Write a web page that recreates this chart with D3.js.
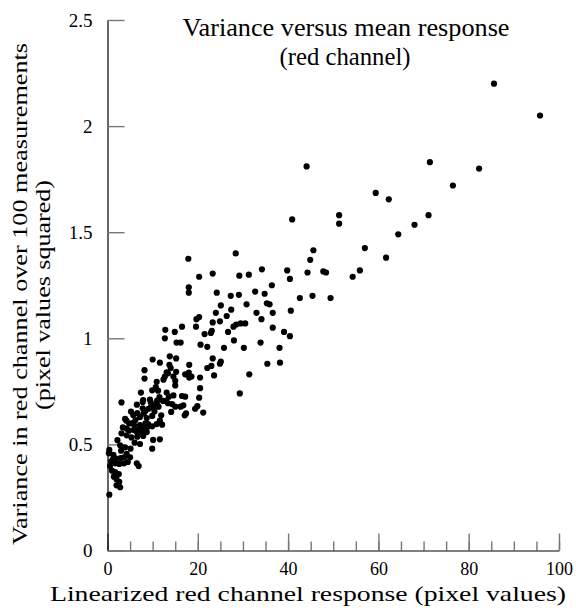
<!DOCTYPE html>
<html>
<head>
  <meta charset="utf-8">
  <title>Variance versus mean response</title>
  <script src="https://d3js.org/d3.v7.min.js"></script>
  <style>
    body { margin: 0; background: #fff; }
    svg { display: block; }
  </style>
</head>
<body>
  <svg width="576" height="613"></svg>
  <script>
    var meanResponse = [
      85.6, 95.8, 44.1, 71.4, 82.3, 76.5, 59.4, 62.3, 71.1, 68.0, 64.4, 61.7, 40.9, 51.3, 51.3, 28.4,
      45.6, 44.9, 57.0, 23.3, 29.2, 31.3, 34.2, 39.8, 40.4, 44.3, 47.8, 48.4, 55.9, 54.3, 42.6, 45.4,
      49.4, 24.2, 27.3, 29.1, 32.7, 34.8, 36.4, 20.3, 25.1, 24.0, 27.4, 26.4, 30.8, 35.3, 35.9, 33.0,
      36.6, 34.1, 40.6, 23.3, 24.9, 27.9, 28.5, 29.5, 30.5, 36.6, 39.1, 40.4, 21.5, 22.9, 23.1, 26.7,
      20.3, 20.6, 22.1, 25.8, 28.0, 30.2, 33.9, 38.1, 23.3, 22.1, 23.0, 24.9, 25.1, 23.6, 31.4, 35.4,
      38.2, 29.3, 21.2, 20.5, 20.5, 20.3, 17.9, 18.0, 18.0, 19.7, 19.6, 16.5, 14.9, 12.8, 12.7, 15.3,
      16.2, 10.0, 11.6, 13.8, 15.2, 13.7, 14.0, 8.2, 8.2, 13.1, 12.7, 12.4, 14.6, 15.0, 18.1, 17.2,
      18.1, 18.6, 19.9, 19.4, 10.9, 10.7, 11.2, 11.5, 11.0, 7.4, 9.9, 7.9, 9.4, 13.1, 14.6, 13.0,
      13.4, 14.3, 15.0, 16.5, 17.2, 16.8, 17.1, 16.2, 3.1, 3.9, 4.2, 5.7, 6.6, 7.2, 7.8, 8.4,
      9.1, 9.6, 10.1, 10.9, 11.3, 4.8, 5.9, 7.2, 8.4, 9.0, 6.8, 7.9, 8.8, 9.9, 10.9, 11.6,
      11.9, 9.9, 12.1, 10.1, 11.6, 3.1, 6.5, 7.8, 9.6, 11.0, 14.1, 17.4, 8.7, 9.9, 5.9, 6.5,
      7.5, 8.7, 4.25, 5.3, 6.6, 6.0, 7.2, 2.8, 3.9, 5.1, 0.4, 0.3, 1.3, 1.9, 2.9, 3.65,
      0.8, 0.55, 1.7, 2.6, 3.65, 4.5, 6.5, 6.9, 1.0, 1.7, 2.5, 1.4, 2.0, 2.6, 2.0, 2.8,
      0.4, 13.4, 15.2, 18.0, 15.0, 4.25, 4.8, 5.0, 4.25, 5.2, 6.2, 8.0, 10.4, 12.3, 13.6, 2.2,
      3.4, 5.6, 7.9, 1.2, 3.0
    ];
    var variance = [
      2.20, 2.05, 1.81, 1.83, 1.80, 1.72, 1.685, 1.655, 1.58, 1.535, 1.49, 1.38, 1.56, 1.58, 1.54, 1.40,
      1.415, 1.37, 1.425, 1.305, 1.295, 1.30, 1.325, 1.32, 1.28, 1.31, 1.315, 1.31, 1.32, 1.29, 1.19, 1.20,
      1.19, 1.215, 1.20, 1.205, 1.22, 1.21, 1.25, 1.29, 1.155, 1.12, 1.135, 1.105, 1.16, 1.165, 1.16, 1.12,
      1.12, 1.09, 1.13, 1.075, 1.08, 1.055, 1.065, 1.07, 1.07, 1.05, 1.03, 1.01, 1.02, 1.025, 1.035, 1.03,
      1.10, 0.97, 0.96, 0.955, 0.99, 0.955, 0.98, 0.955, 0.905, 0.86, 0.87, 0.88, 0.89, 0.825, 0.83, 0.88,
      0.885, 0.74, 0.65, 0.765, 0.815, 0.72, 1.375, 1.24, 1.215, 1.09, 1.055, 1.055, 1.03, 1.04, 1.00, 0.98,
      0.98, 0.90, 0.885, 0.915, 0.905, 0.875, 0.86, 0.85, 0.81, 0.84, 0.82, 0.805, 0.82, 0.80, 0.875, 0.83,
      0.815, 0.82, 0.68, 0.668, 0.795, 0.77, 0.753, 0.723, 0.706, 0.744, 0.755, 0.709, 0.711, 0.744, 0.731, 0.706,
      0.694, 0.69, 0.678, 0.728, 0.725, 0.684, 0.637, 0.678, 0.698, 0.62, 0.612, 0.639, 0.647, 0.629, 0.67, 0.657,
      0.668, 0.675, 0.678, 0.69, 0.678, 0.599, 0.59, 0.591, 0.599, 0.596, 0.568, 0.574, 0.581, 0.585, 0.596, 0.612,
      0.637, 0.48, 0.593, 0.521, 0.524, 0.552, 0.687, 0.70, 0.697, 0.681, 0.653, 0.646, 0.624, 0.634, 0.568, 0.558,
      0.552, 0.558, 0.543, 0.533, 0.536, 0.508, 0.502, 0.496, 0.486, 0.48, 0.474, 0.458, 0.451, 0.433, 0.436, 0.439,
      0.42, 0.398, 0.411, 0.408, 0.411, 0.417, 0.411, 0.398, 0.376, 0.37, 0.36, 0.348, 0.336, 0.323, 0.307, 0.298,
      0.263, 0.835, 0.842, 0.838, 0.778, 0.574, 0.565, 0.439, 0.455, 0.655, 0.615, 0.645, 0.655, 0.705, 0.725, 0.52,
      0.58, 0.6, 0.54, 0.43, 0.47
    ];
    var xTicks = [0, 20, 40, 60, 80, 100];
    var xMinorTicks = d3.range(0, 101, 5);
    var yTicks = [0, 0.5, 1, 1.5, 2, 2.5];
    var yTickLabels = ["0", "0.5", "1", "1.5", "2", "2.5"];

    var points = meanResponse.map(function(m, i) { return [m, variance[i]]; });

    var svg = d3.select("svg");

    var x = d3.scaleLinear().domain([0, 100]).range([107.5, 559]);
    var y = d3.scaleLinear().domain([0, 2.5]).range([550.5, 20]);

    var tickColor = "#777";

    // minor x ticks
    svg.append("g")
        .attr("transform", "translate(0,550.5)")
        .call(d3.axisBottom(x).tickValues(xMinorTicks).tickSize(-9).tickSizeOuter(0).tickFormat(""))
        .call(function(g) {
          g.select(".domain").remove();
          g.selectAll(".tick line").attr("stroke", tickColor).attr("stroke-width", 1.4);
        });

    // major x ticks + labels
    svg.append("g")
        .attr("transform", "translate(0,550.5)")
        .call(d3.axisBottom(x).tickValues(xTicks).tickSize(-17).tickSizeOuter(0).tickPadding(12))
        .call(function(g) {
          g.select(".domain").attr("stroke", "#000").attr("stroke-width", 1.2);
          g.selectAll(".tick line").attr("stroke", tickColor).attr("stroke-width", 1.4);
          g.selectAll(".tick text")
              .attr("fill", "#000")
              .style("font-family", "'Liberation Serif', serif")
              .style("font-size", "18px");
        });

    // y axis
    svg.append("g")
        .attr("transform", "translate(107.5,0)")
        .call(d3.axisLeft(y).tickValues(yTicks).tickSize(-17).tickSizeOuter(0).tickPadding(15)
          .tickFormat(function(d, i) { return yTickLabels[i]; }))
        .call(function(g) {
          g.select(".domain").attr("stroke", "#000").attr("stroke-width", 1.2);
          g.selectAll(".tick line").attr("stroke", tickColor).attr("stroke-width", 1.4);
          g.selectAll(".tick text")
              .attr("fill", "#000")
              .style("font-family", "'Liberation Serif', serif")
              .style("font-size", "19px");
        });

    // dots
    svg.append("g")
      .selectAll("circle")
      .data(points)
      .enter()
      .append("circle")
        .attr("cx", function(d) { return x(d[0]); })
        .attr("cy", function(d) { return y(d[1]); })
        .attr("r", 3.1)
        .attr("fill", "#000");

    // title
    var title = svg.append("g")
        .style("font-family", "'Liberation Serif', serif")
        .style("font-size", "25px")
        .attr("text-anchor", "middle");
    title.append("text").attr("x", 346).attr("y", 36)
        .attr("textLength", 327).attr("lengthAdjust", "spacingAndGlyphs")
        .text("Variance versus mean response");
    title.append("text").attr("x", 345).attr("y", 65)
        .attr("textLength", 131).attr("lengthAdjust", "spacingAndGlyphs")
        .text("(red channel)");

    // axis titles
    var labelFont = "'Liberation Serif', serif";
    svg.append("text")
        .attr("x", 308).attr("y", 601)
        .attr("text-anchor", "middle")
        .style("font-family", labelFont)
        .style("font-size", "21px")
        .attr("textLength", 516).attr("lengthAdjust", "spacingAndGlyphs")
        .text("Linearized red channel response (pixel values)");

    svg.append("text")
        .attr("transform", "translate(27,294) rotate(-90)")
        .attr("text-anchor", "middle")
        .style("font-family", labelFont)
        .style("font-size", "22px")
        .attr("textLength", 502).attr("lengthAdjust", "spacingAndGlyphs")
        .text("Variance in red channel over 100 measurements");

    svg.append("text")
        .attr("transform", "translate(50,295) rotate(-90)")
        .attr("text-anchor", "middle")
        .style("font-family", labelFont)
        .style("font-size", "22px")
        .attr("textLength", 230).attr("lengthAdjust", "spacingAndGlyphs")
        .text("(pixel values squared)");
  </script>
</body>
</html>
